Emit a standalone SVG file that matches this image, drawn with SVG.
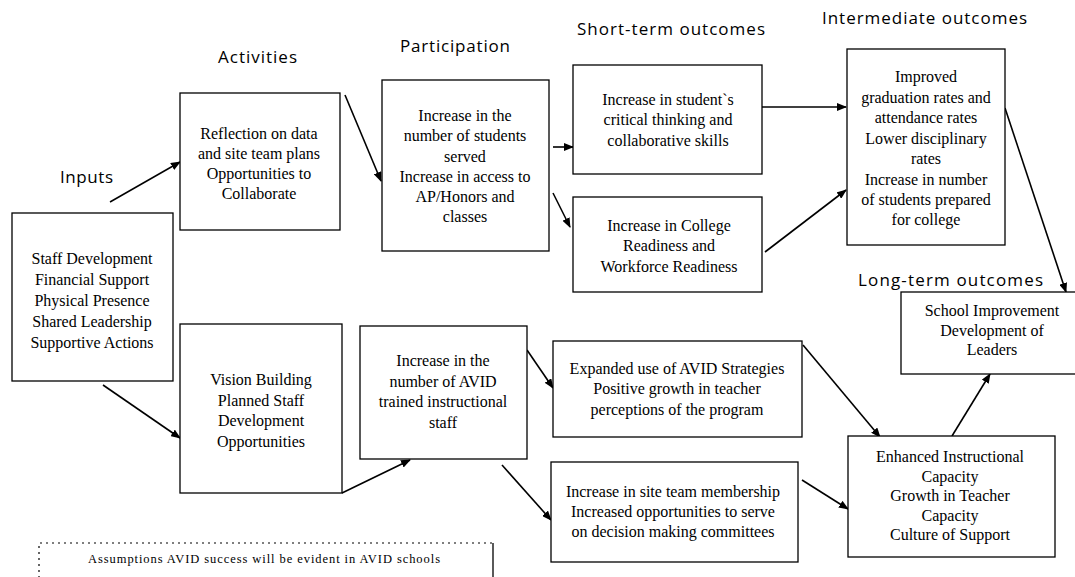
<svg xmlns="http://www.w3.org/2000/svg" width="1075" height="577" viewBox="0 0 1075 577">
<defs>
<style>
.box{fill:#fff;stroke:#000;stroke-width:1.3}
.t{font-family:"Liberation Serif","Times New Roman",serif;font-size:16px;fill:#000;text-anchor:middle}
.h{font-family:"Open Sans","Liberation Sans",sans-serif;font-size:17px;fill:#000;text-anchor:middle}
.c{fill:none;stroke:#000;stroke-width:1.6;marker-end:url(#ah)}
.dash{fill:none;stroke:#000;stroke-width:1.2;stroke-dasharray:2 4}
</style>
<marker id="ah" markerUnits="userSpaceOnUse" markerWidth="10" markerHeight="8" refX="9" refY="4" orient="auto">
<path d="M0,0 L10,4 L0,8 Z" fill="#000"/>
</marker>
</defs>
<rect width="1075" height="577" fill="#fff"/>

<g id="headings">
<text class="h" x="86.5" y="183" textLength="53" lengthAdjust="spacing">Inputs</text>
<text class="h" x="257.5" y="63" textLength="79" lengthAdjust="spacing">Activities</text>
<text class="h" x="455" y="52" textLength="110" lengthAdjust="spacing">Participation</text>
<text class="h" x="671" y="35" textLength="188" lengthAdjust="spacing">Short-term outcomes</text>
<text class="h" x="924.5" y="24" textLength="205" lengthAdjust="spacing">Intermediate outcomes</text>
<text class="h" x="950.5" y="286" textLength="185" lengthAdjust="spacing">Long-term outcomes</text>
</g>

<g id="connectors">
<line class="c" x1="110" y1="202" x2="180" y2="162"/>
<line class="c" x1="103" y1="385" x2="180" y2="438"/>
<line class="c" x1="345" y1="95" x2="381" y2="181"/>
<line class="c" x1="342" y1="493" x2="410" y2="460"/>
<line class="c" x1="553" y1="147" x2="573" y2="147"/>
<line class="c" x1="553" y1="193" x2="570" y2="227"/>
<line class="c" x1="527" y1="350" x2="553" y2="388"/>
<line class="c" x1="502" y1="465" x2="551" y2="520"/>
<line class="c" x1="762" y1="107" x2="846" y2="107"/>
<line class="c" x1="765" y1="252" x2="846" y2="190"/>
<line class="c" x1="1005" y1="108" x2="1066" y2="292"/>
<line class="c" x1="803" y1="345" x2="880" y2="437"/>
<line class="c" x1="802" y1="480" x2="848" y2="509"/>
<line class="c" x1="952" y1="436" x2="990" y2="374"/>
</g>

<g id="inputs">
<rect class="box" x="12" y="213" width="161" height="168"/>
<text class="t" x="92" y="264">Staff Development</text>
<text class="t" x="92" y="285">Financial  Support</text>
<text class="t" x="92" y="306">Physical Presence</text>
<text class="t" x="92" y="327">Shared Leadership</text>
<text class="t" x="92" y="348">Supportive Actions</text>
</g>

<g id="activity-reflection">
<rect class="box" x="180" y="93" width="160" height="137"/>
<text class="t" x="259" y="139">Reflection on data</text>
<text class="t" x="259" y="159">and site team plans</text>
<text class="t" x="259" y="179">Opportunities to</text>
<text class="t" x="259" y="199">Collaborate</text>
</g>

<g id="activity-vision">
<rect class="box" x="180" y="324" width="162" height="169"/>
<text class="t" x="261" y="385">Vision Building</text>
<text class="t" x="261" y="405.5">Planned Staff</text>
<text class="t" x="261" y="426">Development</text>
<text class="t" x="261" y="446.5">Opportunities</text>
</g>

<g id="participation-students">
<rect class="box" x="382" y="80" width="167" height="171"/>
<text class="t" x="465" y="121">Increase in the</text>
<text class="t" x="465" y="141">number of students</text>
<text class="t" x="465" y="161.5">served</text>
<text class="t" x="465" y="182">Increase in access to</text>
<text class="t" x="465" y="202">AP/Honors and</text>
<text class="t" x="465" y="222">classes</text>
</g>

<g id="participation-staff">
<rect class="box" x="360" y="326" width="167" height="133"/>
<text class="t" x="443" y="366">Increase in the</text>
<text class="t" x="443" y="387">number of AVID</text>
<text class="t" x="443" y="407">trained instructional</text>
<text class="t" x="443" y="428">staff</text>
</g>

<g id="short-critical">
<rect class="box" x="573" y="65" width="189" height="109"/>
<text class="t" x="668" y="105">Increase in student`s</text>
<text class="t" x="668" y="125">critical thinking  and</text>
<text class="t" x="668" y="146">collaborative skills</text>
</g>

<g id="short-readiness">
<rect class="box" x="573" y="197" width="189" height="95"/>
<text class="t" x="669" y="231">Increase in College</text>
<text class="t" x="669" y="251">Readiness and</text>
<text class="t" x="669" y="272">Workforce Readiness</text>
</g>

<g id="short-strategies">
<rect class="box" x="553" y="341" width="249" height="96"/>
<text class="t" x="677" y="374">Expanded use of AVID Strategies</text>
<text class="t" x="677" y="394">Positive growth in teacher</text>
<text class="t" x="677" y="415">perceptions of the program</text>
</g>

<g id="short-siteteam">
<rect class="box" x="551" y="462" width="247" height="100"/>
<text class="t" x="673" y="497">Increase in site team membership</text>
<text class="t" x="673" y="517">Increased opportunities to serve</text>
<text class="t" x="673" y="537">on decision making  committees</text>
</g>

<g id="intermediate">
<rect class="box" x="847" y="49" width="158" height="196"/>
<text class="t" x="926" y="82">Improved</text>
<text class="t" x="926" y="102.5">graduation rates and</text>
<text class="t" x="926" y="123">attendance rates</text>
<text class="t" x="926" y="143.5">Lower disciplinary</text>
<text class="t" x="926" y="164">rates</text>
<text class="t" x="926" y="184.5">Increase in number</text>
<text class="t" x="926" y="205">of students prepared</text>
<text class="t" x="926" y="225">for college</text>
</g>

<g id="long-school">
<rect class="box" x="901" y="292" width="185" height="82"/>
<text class="t" x="992" y="316">School Improvement</text>
<text class="t" x="992" y="335.5">Development  of</text>
<text class="t" x="992" y="355">Leaders</text>
</g>

<g id="enhanced">
<rect class="box" x="848" y="436" width="207" height="121"/>
<text class="t" x="950" y="462">Enhanced Instructional</text>
<text class="t" x="950" y="481.5">Capacity</text>
<text class="t" x="950" y="501">Growth in Teacher</text>
<text class="t" x="950" y="520.5">Capacity</text>
<text class="t" x="950" y="540">Culture  of Support</text>
</g>

<g id="assumptions">
<path class="dash" d="M39,590 V543 H493"/>
<line x1="493" y1="543" x2="493" y2="590" stroke="#000" stroke-width="1.3"/>
<text x="264" y="563" font-family="Liberation Serif, Times New Roman, serif" font-size="12.5" text-anchor="middle" textLength="352" lengthAdjust="spacing">Assumptions   AVID success will be evident in AVID schools</text>
</g>
</svg>
